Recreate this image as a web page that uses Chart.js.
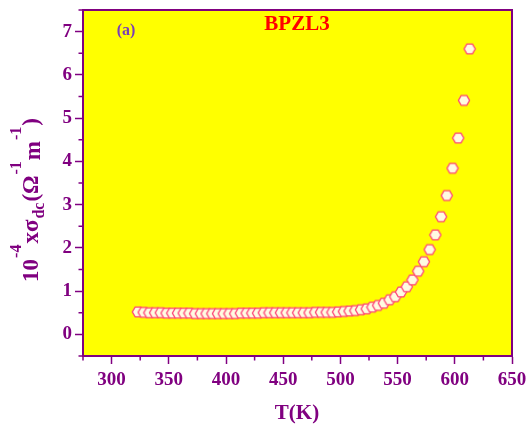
<!DOCTYPE html>
<html>
<head>
<meta charset="utf-8">
<script src="https://cdn.jsdelivr.net/npm/chart.js@4.4.0/dist/chart.umd.min.js"></script>
<style>
  html, body { margin: 0; padding: 0; background: #fff; }
  #wrap { width: 527px; height: 425px; position: relative; }
</style>
</head>
<body>
<div id="wrap"><canvas id="chart"></canvas></div>
<script>
  // temperature (K)
  var temps = [323, 328, 333, 338, 343, 348, 353, 358, 363, 368,
    373, 378, 383, 388, 393, 398, 403, 408, 413, 418,
    423, 428, 433, 438, 443, 448, 453, 458, 463, 468,
    473, 478, 483, 488, 493, 498, 503, 508, 513, 518,
    523, 528, 533, 538, 543, 548, 553, 558, 563, 568,
    573, 578, 583, 588, 593, 598, 603, 608, 613];
  // 10^-4 x sigma_dc
  var sigmaDc = [0.52, 0.51, 0.50, 0.50, 0.50, 0.49, 0.49, 0.49, 0.49, 0.49,
    0.48, 0.48, 0.48, 0.48, 0.48, 0.48, 0.48, 0.48, 0.49, 0.49,
    0.49, 0.49, 0.50, 0.50, 0.50, 0.50, 0.50, 0.50, 0.50, 0.50,
    0.50, 0.51, 0.51, 0.51, 0.51, 0.52, 0.53, 0.54, 0.55, 0.57,
    0.59, 0.63, 0.67, 0.72, 0.80, 0.87, 0.98, 1.10, 1.26, 1.46,
    1.68, 1.96, 2.30, 2.72, 3.21, 3.84, 4.54, 5.41, 6.60];

  var PURPLE = '#800080';
  var SERIF = "'Liberation Serif', 'DejaVu Serif', serif";

  function hexMarker() {
    var c = document.createElement('canvas');
    c.width = 14; c.height = 14;
    var g = c.getContext('2d');
    g.beginPath();
    for (var i = 0; i < 6; i++) {
      var a = Math.PI / 3 * i;
      var px = 7 + 5.6 * Math.cos(a), py = 7 + 5.6 * Math.sin(a);
      if (i === 0) g.moveTo(px, py); else g.lineTo(px, py);
    }
    g.closePath();
    g.fillStyle = '#fffbe2';
    g.fill();
    g.lineWidth = 1.3;
    g.strokeStyle = '#ff4478';
    g.stroke();
    return c;
  }

  var points = temps.map(function (t, i) { return { x: t, y: sigmaDc[i] }; });

  var decor = {
    id: 'decor',
    beforeDraw: function (chart) {
      var a = chart.chartArea, ctx = chart.ctx;
      ctx.save();
      ctx.fillStyle = '#ffff00';
      ctx.fillRect(a.left, a.top, a.right - a.left, a.bottom - a.top);
      ctx.restore();
    },
    afterDraw: function (chart) {
      var a = chart.chartArea, ctx = chart.ctx;
      ctx.save();
      // frame
      ctx.strokeStyle = PURPLE;
      ctx.lineWidth = 2;
      ctx.strokeRect(a.left, a.top, a.right - a.left, a.bottom - a.top);

      // minor ticks
      ctx.lineWidth = 1.5;
      var xs = chart.scales.x, ys = chart.scales.y;
      xs.ticks.forEach(function (t) {
        if (t.value % 50 !== 0) {
          var px = xs.getPixelForValue(t.value);
          ctx.beginPath(); ctx.moveTo(px, a.bottom); ctx.lineTo(px, a.bottom + 4.5); ctx.stroke();
        }
      });
      ys.ticks.forEach(function (t) {
        if (!Number.isInteger(t.value)) {
          var py = ys.getPixelForValue(t.value);
          ctx.beginPath(); ctx.moveTo(a.left, py); ctx.lineTo(a.left - 4.5, py); ctx.stroke();
        }
      });

      // title and panel label
      ctx.textAlign = 'center';
      ctx.textBaseline = 'middle';
      ctx.fillStyle = '#ff0000';
      ctx.font = 'bold 21px ' + SERIF;
      ctx.fillText('BPZL3', 297, 25);
      ctx.fillStyle = '#7a3db8';
      ctx.font = 'bold 16px ' + SERIF;
      ctx.fillText('(a)', 126, 31);

      // x title
      ctx.fillStyle = PURPLE;
      ctx.font = 'bold 21px ' + SERIF;
      ctx.fillText('T(K)', 297, 414);

      // y title with super/subscripts
      var main = 'bold 23px ' + SERIF, small = 'bold 16px ' + SERIF;
      var parts = [
        ['10', main, 0], ['-4', small, -17], ['x\u03c3', main, 0], ['dc', small, 6],
        ['(\u03a9', main, 0], ['-1', small, -17], ['m', main, 2], ['-1', small, -17], [')', main, 0]
      ];
      var gap = 1;
      var total = 0;
      parts.forEach(function (p) { ctx.font = p[1]; total += ctx.measureText(p[0]).width + gap; });
      total -= gap;
      ctx.translate(38, 200);
      ctx.rotate(-Math.PI / 2);
      ctx.textAlign = 'left';
      ctx.textBaseline = 'alphabetic';
      var cx = -total / 2;
      parts.forEach(function (p) {
        ctx.font = p[1];
        ctx.fillText(p[0], cx, p[2]);
        cx += ctx.measureText(p[0]).width + gap;
      });
      ctx.restore();
    }
  };

  new Chart(document.getElementById('chart'), {
    type: 'scatter',
    data: {
      datasets: [{
        data: points,
        pointStyle: hexMarker(),
        pointRadius: 6,
        pointHoverRadius: 6
      }]
    },
    options: {
      responsive: true,
      maintainAspectRatio: false,
      animation: false,
      events: [],
      layout: { padding: { top: 10, right: 15, left: 0, bottom: 0 } },
      plugins: { legend: { display: false }, tooltip: { enabled: false } },
      scales: {
        x: {
          type: 'linear',
          min: 275,
          max: 650,
          afterFit: function (s) { s.height = 69; s.paddingLeft = 0; s.paddingRight = 0; },
          border: { color: PURPLE, width: 2 },
          grid: {
            drawOnChartArea: false,
            tickLength: 8,
            tickWidth: 1.5,
            tickColor: function (c) { return c.tick && c.tick.value % 50 === 0 ? PURPLE : 'rgba(0,0,0,0)'; }
          },
          ticks: {
            stepSize: 25,
            autoSkip: false,
            maxRotation: 0,
            padding: 5,
            color: PURPLE,
            font: { family: SERIF, size: 19, weight: 'bold' },
            callback: function (v) { return v % 50 === 0 ? v : ''; }
          }
        },
        y: {
          min: -0.5,
          max: 7.5,
          afterFit: function (s) { s.width = 83; s.paddingTop = 0; s.paddingBottom = 0; },
          border: { color: PURPLE, width: 2 },
          grid: {
            drawOnChartArea: false,
            tickLength: 8,
            tickWidth: 1.5,
            tickColor: function (c) { return c.tick && Number.isInteger(c.tick.value) ? PURPLE : 'rgba(0,0,0,0)'; }
          },
          ticks: {
            stepSize: 0.5,
            autoSkip: false,
            padding: 3,
            color: PURPLE,
            font: { family: SERIF, size: 19, weight: 'bold' },
            callback: function (v) { return Number.isInteger(v) ? v : ''; }
          }
        }
      }
    },
    plugins: [decor]
  });
</script>
</body>
</html>
